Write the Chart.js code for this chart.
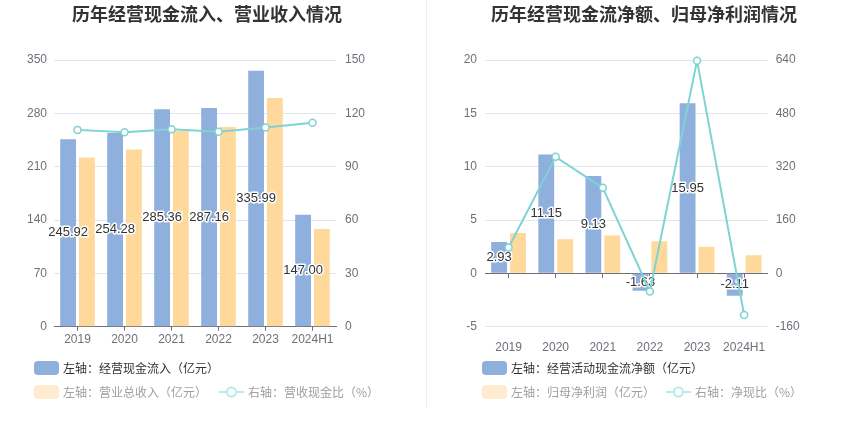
<!DOCTYPE html>
<html><head><meta charset="utf-8">
<script src="https://cdn.jsdelivr.net/npm/chart.js@4.4.1/dist/chart.umd.min.js"></script>
<style>
html,body{margin:0;padding:0;background:#fff;width:850px;height:437px;overflow:hidden;font-family:"Liberation Sans","Noto Sans CJK SC",sans-serif;}
.abs{position:absolute;}
.title{position:absolute;top:4px;line-height:18px;font-weight:bold;font-size:18px;font-family:"Noto Sans CJK SC",sans-serif;color:#333;white-space:nowrap;transform:translateX(-50%);}
.sw{position:absolute;width:25px;height:14px;border-radius:4px;}
.lt{position:absolute;font-size:12px;line-height:14px;white-space:nowrap;font-family:"Noto Sans CJK SC",sans-serif;}
canvas{position:absolute;top:0;}
</style>
</head><body>
<canvas id="c1" width="425" height="437" style="left:0"></canvas>
<canvas id="c2" width="425" height="437" style="left:425px"></canvas>
<div class="abs" style="left:426px;top:0;width:1px;height:408px;background:#EEEEEE"></div>
<div id="legends"></div>
<script>
// ---- data ----
const categories = ['2019', '2020', '2021', '2022', '2023', '2024H1'];
const cashInflow = [245.92, 254.28, 285.36, 287.16, 335.99, 147.00];
const revenue = [222.2, 232.7, 256.8, 262.1, 300.1, 128.2];
const cashRevenueRatio = [110.7, 109.3, 111.1, 109.6, 112.0, 114.7];
const netCashFlow = [2.93, 11.15, 9.13, -1.63, 15.95, -2.11];
const netProfit = [3.78, 3.19, 3.56, 3.00, 2.50, 1.69];
const netCashRatio = [77.5, 349.5, 256.5, -54.3, 638.0, -124.9];
const leftTicks1 = [0, 70, 140, 210, 280, 350];
const rightTicks1 = [0, 30, 60, 90, 120, 150];
const leftTicks2 = [-5, 0, 5, 10, 15, 20];
const rightTicks2 = [-160, 0, 160, 320, 480, 640];
const titles = ['历年经营现金流入、营业收入情况', '历年经营现金流净额、归母净利润情况'];
const names1 = ['左轴：经营现金流入（亿元）', '左轴：营业总收入（亿元）', '右轴：营收现金比（%）'];
const names2 = ['左轴：经营活动现金流净额（亿元）', '左轴：归母净利润（亿元）', '右轴：净现比（%）'];

const BLUE = '#8FAFDD', ORANGE = '#FFD99B', CYAN = '#7ED3D3';
const AXC = '#6E7079', GRID = '#E0E6F1';
const FONT = '"Liberation Sans","Noto Sans CJK SC",sans-serif';
Chart.defaults.font.family = FONT;
Chart.defaults.font.size = 12;
Chart.defaults.color = AXC;

const barLabels = {
  id: 'barLabels',
  afterDatasetDraw(chart, args) {
    if (args.index !== 0) return;
    const ctx = chart.ctx;
    const ds = chart.data.datasets[0].data;
    ctx.save();
    ctx.font = '13px ' + FONT;
    ctx.textAlign = 'center';
    ctx.textBaseline = 'middle';
    ctx.lineWidth = 3;
    ctx.lineJoin = 'round';
    ctx.strokeStyle = '#fff';
    ctx.fillStyle = '#333';
    args.meta.data.forEach((el, i) => {
      const t = ds[i].toFixed(2);
      const y = (el.y + el.base) / 2;
      ctx.strokeText(t, el.x, y);
      ctx.fillText(t, el.x, y);
    });
    ctx.restore();
  }
};

function gridColor(ctx) { return ctx.tick && ctx.tick.value === 0 ? 'rgba(0,0,0,0)' : GRID; }

function makeChart(id, barA, barB, line, names, lt, rt, lw, rw, lpad, rpad, zeroAxis) {
  const scales = {
    x: {
      type: 'category', offset: true,
      grid: zeroAxis ? { display: false } : { display: true, drawOnChartArea: false, drawTicks: true, tickLength: 4, offset: false, color: AXC },
      border: { display: !zeroAxis, color: AXC },
      ticks: { color: AXC, padding: zeroAxis ? 6 : 2, maxRotation: 0, autoSkip: false },
      afterFit(s) { s.height = 110.3; }
    },
    y: {
      position: 'left', min: lt[0], max: lt[lt.length - 1],
      ticks: { stepSize: lt[1] - lt[0], color: AXC, padding: lpad },
      grid: { color: gridColor, drawTicks: false },
      border: { display: false },
      afterFit(s) { s.width = lw; }
    },
    y1: {
      position: 'right', min: rt[0], max: rt[rt.length - 1],
      ticks: { stepSize: rt[1] - rt[0], color: AXC, padding: rpad },
      grid: { display: false, drawTicks: false },
      border: { display: false },
      afterFit(s) { s.width = rw; }
    }
  };
  if (zeroAxis) {
    scales.x2 = {
      type: 'category', position: { y: 0 }, offset: true,
      ticks: { display: false },
      grid: { display: true, drawOnChartArea: false, drawTicks: true, tickLength: 4, offset: false, color: AXC },
      border: { display: true, color: AXC },
      afterFit(s) { s.height = 0; }
    };
  }
  return new Chart(document.getElementById(id), {
    type: 'bar',
    data: {
      labels: categories,
      datasets: [
        { type: 'bar', label: names[0], data: barA, backgroundColor: BLUE, yAxisID: 'y', order: 1, categoryPercentage: 0.8, barPercentage: 0.84 },
        { type: 'bar', label: names[1], data: barB, backgroundColor: ORANGE, yAxisID: 'y', order: 1, categoryPercentage: 0.8, barPercentage: 0.84 },
        { type: 'line', label: names[2], data: line, yAxisID: 'y1', order: 0, clip: false, borderColor: CYAN, borderWidth: 2, tension: 0,
          pointRadius: 3.5, pointBackgroundColor: '#fff', pointBorderColor: CYAN, pointBorderWidth: 1.5 }
      ]
    },
    options: {
      responsive: false, animation: false,
      layout: { padding: { top: 60, bottom: 0, left: 0, right: 0 } },
      plugins: { legend: { display: false }, tooltip: { enabled: false } },
      scales
    },
    plugins: [barLabels]
  });
}

makeChart('c1', cashInflow, revenue, cashRevenueRatio, names1, leftTicks1, rightTicks1, 54, 89, 7, 9, false);
makeChart('c2', netCashFlow, netProfit, netCashRatio, names2, leftTicks2, rightTicks2, 60, 82.3, 8, 8, true);

// ---- titles & legends (HTML) ----
const L = document.getElementById('legends');
function add(html) { L.insertAdjacentHTML('beforeend', html); }
add('<div class="title" style="left:207px">' + titles[0] + '</div>');
add('<div class="title" style="left:644px">' + titles[1] + '</div>');
function legend(x0, names, lineX) {
  add('<div class="sw" style="left:' + x0 + 'px;top:361px;background:' + BLUE + '"></div>');
  add('<div class="lt" style="left:' + (x0 + 29) + 'px;top:361px;color:#333">' + names[0] + '</div>');
  add('<div class="sw" style="left:' + x0 + 'px;top:385px;background:#FFEBCD"></div>');
  add('<div class="lt" style="left:' + (x0 + 29) + 'px;top:385px;color:#A0A0A0">' + names[1] + '</div>');
  add('<svg class="abs" style="left:' + lineX + 'px;top:385px" width="25" height="14"><line x1="0" y1="7" x2="25" y2="7" stroke="#BCE9E9" stroke-width="2"/><circle cx="12.5" cy="7" r="4.5" fill="#fff" stroke="#BCE9E9" stroke-width="2"/></svg>');
  add('<div class="lt" style="left:' + (lineX + 29) + 'px;top:385px;color:#A0A0A0">' + names[2] + '</div>');
}
legend(34, names1, 219);
legend(482, names2, 666);
</script>
</body></html>
